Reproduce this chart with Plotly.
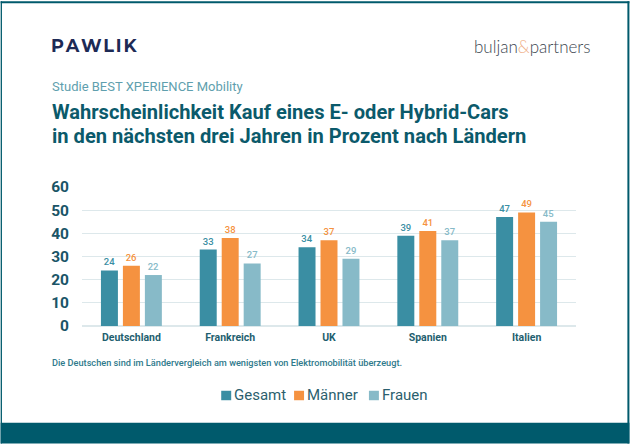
import plotly.graph_objects as go

categories = ["Deutschland", "Frankreich", "UK", "Spanien", "Italien"]
gesamt = [24, 33, 34, 39, 47]
maenner = [26, 38, 37, 41, 49]
frauen = [22, 27, 29, 37, 45]
y_ticks = [0, 10, 20, 30, 40, 50, 60]

series = [("Gesamt", gesamt, "#3a8ea3"), ("Männer", maenner, "#f59240"), ("Frauen", frauen, "#87bac8")]
W, H = 630, 444
L, R, T, B = 81.5, 576.5, 186.5, 326
DARK = "#0b5a6b"
FONT = "Roboto, Arial, sans-serif"

fig = go.Figure()
for name, vals, col in series:
    fig.add_bar(name=name, x=categories, y=vals, marker=dict(color=col, line_width=0),
                text=vals, textposition="outside", cliponaxis=False,
                textfont=dict(family=FONT, size=9.5, color=col, weight=500),
                hoverinfo="skip", showlegend=False)

def px(x): return (x - L) / (R - L)
def py(y): return (B - y) / (B - T)

def note(x, y, text, size, color, weight=400, family=FONT, anchor="left"):
    fig.add_annotation(xref="paper", yref="paper", x=px(x), y=py(y), text=text, showarrow=False,
                       xanchor=anchor, yanchor="middle", align="left", borderpad=0, borderwidth=0,
                       font=dict(family=family, size=size, color=color, weight=weight))

def rect(x0, x1, y0, y1, color):
    return dict(type="rect", xref="paper", yref="paper", x0=px(x0), x1=px(x1), y0=py(y1), y1=py(y0),
                fillcolor=color, line_width=0, layer="below")

note(50.5, 44, "P\u200aA\u200aW\u200aL\u200aI\u200aK", 17.7, "#1d2a55", 700, "Montserrat, 'Open Sans', sans-serif")
note(592, 45, "buljan<span style='color:#f0b088'>&amp;</span>partners", 17, "#3c4650", 300, "Lato, sans-serif", "right")
note(51, 86, "Studie BEST XPERIENCE Mobility", 13, "#5f9fae")
note(51, 111, "Wahrscheinlichkeit Kauf eines E- oder Hybrid-Cars", 20.1, DARK, 700)
note(51, 135, "in den nächsten drei Jahren in Prozent nach Ländern", 20.1, DARK, 700)
note(51, 363, "Die Deutschen sind im Ländervergleich am wenigsten von Elektromobilität überzeugt.", 9.2, "#2f7a8c", 500)

legend_x = [221, 294, 369]
shapes = [rect(0, W, 423, H, "#005a6c"), rect(0, W, 0, 2, "#005a6c"),
          rect(0, 1.3, 0, H, "#005a6c"), rect(628, W, 0, H, "#005a6c")]
for (name, _, col), x in zip(series, legend_x):
    shapes.append(rect(x, x + 10, 391, 400.5, col))
    note(x + 13, 395.5, name, 15, "#2b5f6e")

fig.update_layout(
    width=W, height=H, paper_bgcolor="white", plot_bgcolor="white",
    margin=dict(l=L, r=W - R, t=T, b=H - B, autoexpand=False),
    barmode="group", bargap=0.333, bargroupgap=0.227,
    font=dict(family=FONT), showlegend=False, shapes=shapes,
)
fig.update_xaxes(type="category", showgrid=False, zeroline=False, showline=False, ticks="",
                 ticklabelstandoff=3, tickfont=dict(family=FONT, size=10.5, color="#1f5f70", weight=700))
fig.update_yaxes(range=[0, 60], tickvals=y_ticks, showgrid=True, gridcolor="#dde8eb", gridwidth=1,
                 zeroline=True, zerolinecolor="#dde8eb", showline=False, ticks="", ticklabelstandoff=12,
                 tickfont=dict(family=FONT, size=15.5, color="#1a5567", weight=700))
fig.write_html("out.html", include_plotlyjs=True, config=dict(displayModeBar=False),
               post_script="document.body.style.margin='0';document.documentElement.style.overflow='hidden';")
